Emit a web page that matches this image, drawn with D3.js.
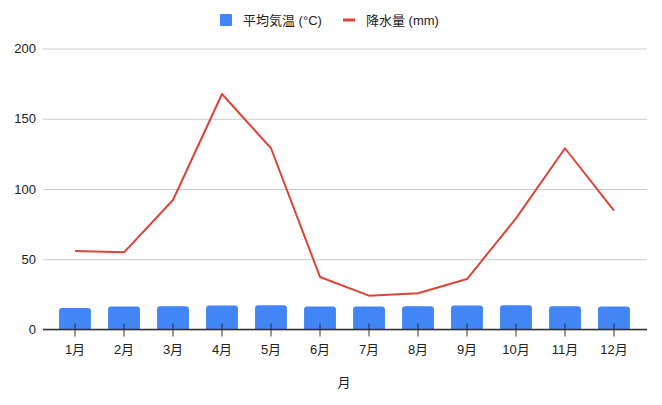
<!DOCTYPE html>
<html>
<head>
<meta charset="utf-8">
<script src="https://cdn.jsdelivr.net/npm/d3@7"></script>
<style>
  body { margin: 0; background: #fff; }
  text { font-family: Arial, "Liberation Sans", "Noto Sans CJK JP", sans-serif; }
</style>
</head>
<body>
<svg id="chart"></svg>
<script>
// data
const months = ["1月","2月","3月","4月","5月","6月","7月","8月","9月","10月","11月","12月"];
const temp = [15.3, 16.4, 16.5, 17.1, 17.2, 16.4, 16.4, 16.5, 17.1, 17.2, 16.5, 16.4];
const rain = [55.9, 54.9, 92.2, 167.6, 129, 37.4, 24.1, 25.8, 35.9, 79.1, 129, 84.6];
const yTicks = [0, 50, 100, 150, 200];
const seriesNames = ["平均気温 (°C)", "降水量 (mm)"];

const W = 662, H = 405;
const svg = d3.select("#chart")
    .attr("width", W)
    .attr("height", H);

let x = d3.scaleBand()
    .domain(months)
    .range([50.5, 638.5])
    .paddingInner(0.35)
    .paddingOuter(0.175);

let y = d3.scaleLinear()
    .domain([0, 200])
    .range([329.5, 48.5]);

// gridlines + y labels
let yAxis = d3.axisLeft(y)
    .tickValues(yTicks)
    .tickSize(-(647 - 43))
    .tickPadding(7);

let gy = svg.append("g")
    .attr("transform", "translate(43,0)")
    .call(yAxis);
gy.select(".domain").remove();
gy.selectAll(".tick line").attr("stroke", "#cccccc");
gy.selectAll(".tick text")
    .attr("fill", "#222")
    .style("font-size", "13px");

// bars with rounded tops
const r = 3;
svg.append("g").selectAll("path")
    .data(temp)
    .join("path")
    .attr("fill", "#4285f4")
    .attr("d", (d, i) => {
        const x0 = x(months[i]), x1 = x0 + x.bandwidth();
        const y0 = y(0), y1 = y(d);
        return `M${x0},${y0}V${y1 + r}Q${x0},${y1} ${x0 + r},${y1}H${x1 - r}Q${x1},${y1} ${x1},${y1 + r}V${y0}Z`;
    });

// baseline
svg.append("line")
    .attr("x1", 43).attr("x2", 647)
    .attr("y1", y(0)).attr("y2", y(0))
    .attr("stroke", "#333")
    .attr("stroke-width", 1.3);

// x axis ticks + labels
let gx = svg.append("g")
    .attr("transform", `translate(0,${y(0)})`)
    .call(d3.axisBottom(x).tickSize(7).tickPadding(8));
gx.select(".domain").remove();
gx.selectAll(".tick line")
    .attr("y1", -6)
    .attr("stroke", "#333");
gx.selectAll(".tick text")
    .attr("fill", "#222")
    .style("font-size", "13px");

// rain line
let line = d3.line()
    .x((d, i) => x(months[i]) + x.bandwidth() / 2)
    .y(d => y(d));

svg.append("path")
    .datum(rain)
    .attr("fill", "none")
    .attr("stroke", "#db4437")
    .attr("stroke-width", 2)
    .attr("stroke-linejoin", "round")
    .attr("d", line);

// x title
svg.append("text")
    .attr("x", 344)
    .attr("y", 387)
    .attr("text-anchor", "middle")
    .attr("fill", "#222")
    .style("font-size", "13px")
    .text("月");

// legend
let lg = svg.append("g");
lg.append("rect")
    .attr("x", 220).attr("y", 14)
    .attr("width", 12).attr("height", 12)
    .attr("rx", 1)
    .attr("fill", "#4285f4");
lg.append("text")
    .attr("x", 243).attr("y", 25)
    .attr("fill", "#222")
    .style("font-size", "13px")
    .text(seriesNames[0]);
lg.append("rect")
    .attr("x", 343).attr("y", 18.5)
    .attr("width", 12).attr("height", 3)
    .attr("fill", "#db4437");
lg.append("text")
    .attr("x", 366).attr("y", 25)
    .attr("fill", "#222")
    .style("font-size", "13px")
    .text(seriesNames[1]);
</script>
</body>
</html>
